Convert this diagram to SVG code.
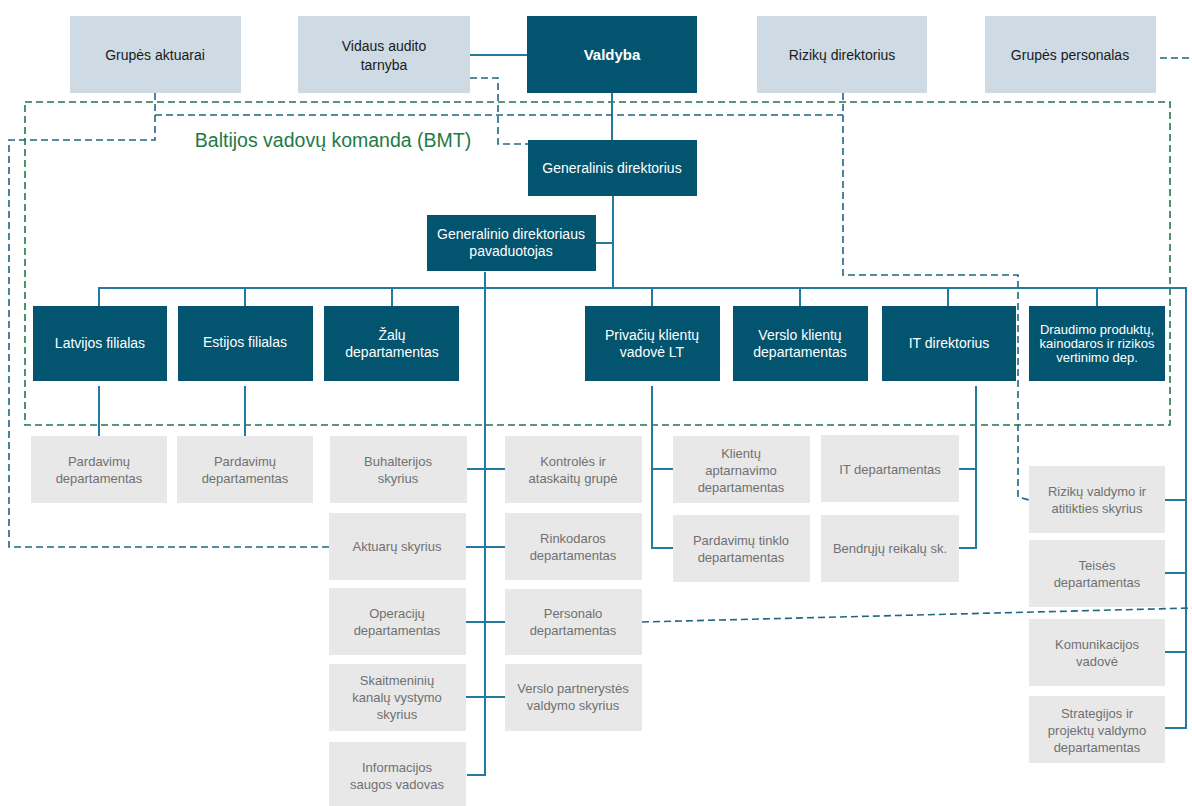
<svg xmlns="http://www.w3.org/2000/svg" width="1192" height="806" viewBox="0 0 1192 806">
<defs>
<style>
text{font-family:"Liberation Sans",Arial,sans-serif;text-anchor:middle}
.top rect{fill:#CEDBE5}
.top text{fill:#1a1a1a;font-size:14px}
.dk rect{fill:#03546F}
.dk text{fill:#ffffff;font-size:14px}
.gr rect{fill:#E8E8E8}
.gr text{fill:#707070;font-size:13px}
.solid{fill:none;stroke:#2479A0;stroke-width:2}
.dash{fill:none;stroke:#1F6784;stroke-width:1.6;stroke-dasharray:7 4}
.green{fill:none;stroke:#1E7A46;stroke-width:1.6;stroke-dasharray:7 4}
</style>
</defs>
<rect width="1192" height="806" fill="#ffffff"/>

<g id="connectors">
<rect class="green" x="25" y="102" width="1145" height="323"/>
<path class="solid" d="M470 55H527M612 93V140M613 196V288M596 243H613"/>
<path class="solid" d="M99 306V288H1186V728H1165M245 288V306M392 288V306M652 288V306M800 288V306M948 288V306M1097 288V306"/>
<path class="solid" d="M1165 500H1186M1165 573H1186M1165 652H1186"/>
<path class="solid" d="M485 272V775H467M467 469H505M466 547H505M466 622H505M466 697H505"/>
<path class="solid" d="M99 386V436M245 386V436"/>
<path class="solid" d="M652 386V548H673M652 469H673M976 386V548H959M959 469H976"/>
<path class="dash" d="M470 78H498V144H528"/>
<path class="dash" d="M155 93V140H9V547H329"/>
<path class="dash" d="M155 115H843"/>
<path class="dash" d="M843 93V275H1018V497L1029 500"/>
<path class="dash" d="M1160 58H1192"/>
<path class="dash" d="M642 622L1192 608"/>
</g>

<text x="333" y="147" fill="#1E7A46" style="font-size:19.5px">Baltijos vadovų komanda (BMT)</text>

<g id="grupes-aktuarai" class="top"><rect x="70" y="16" width="171" height="77"/><text x="155" y="60">Grupės aktuarai</text></g>
<g id="vidaus-audito" class="top"><rect x="298" y="16" width="172" height="77"/><text x="384" y="51">Vidaus audito</text><text x="384" y="70">tarnyba</text></g>
<g id="valdyba" class="dk"><rect x="527" y="16" width="170" height="77"/><text x="612" y="60" style="font-weight:bold;font-size:15px">Valdyba</text></g>
<g id="riziku-direktorius" class="top"><rect x="757" y="16" width="170" height="77"/><text x="842" y="60">Rizikų direktorius</text></g>
<g id="grupes-personalas" class="top"><rect x="985" y="16" width="171" height="77"/><text x="1070" y="60">Grupės personalas</text></g>

<g id="generalinis" class="dk"><rect x="528" y="140" width="169" height="56"/><text x="612" y="173">Generalinis direktorius</text></g>
<g id="pavaduotojas" class="dk"><rect x="427" y="215" width="169" height="56"/><text x="511" y="239">Generalinio direktoriaus</text><text x="511" y="256">pavaduotojas</text></g>

<g id="latvijos" class="dk"><rect x="33" y="306" width="134" height="75"/><text x="100" y="348">Latvijos filialas</text></g>
<g id="estijos" class="dk"><rect x="178" y="306" width="135" height="75"/><text x="245" y="347">Estijos filialas</text></g>
<g id="zalu" class="dk"><rect x="324" y="306" width="135" height="75"/><text x="392" y="340">Žalų</text><text x="392" y="357">departamentas</text></g>
<g id="privaciu" class="dk"><rect x="585" y="306" width="135" height="75"/><text x="652" y="340">Privačių klientų</text><text x="652" y="357">vadovė LT</text></g>
<g id="verslo-klientu" class="dk"><rect x="733" y="306" width="135" height="75"/><text x="800" y="340">Verslo klientų</text><text x="800" y="357">departamentas</text></g>
<g id="it-direktorius" class="dk"><rect x="882" y="306" width="134" height="75"/><text x="949" y="348">IT direktorius</text></g>
<g id="draudimo" class="dk"><rect x="1029" y="306" width="136" height="75"/><text x="1097" y="334" style="font-size:13px">Draudimo produktų,</text><text x="1097" y="348" style="font-size:13px">kainodaros ir rizikos</text><text x="1097" y="362" style="font-size:13px">vertinimo dep.</text></g>

<g id="pardavimu-lv" class="gr"><rect x="31" y="436" width="136" height="67"/><text x="99" y="466">Pardavimų</text><text x="99" y="483">departamentas</text></g>
<g id="pardavimu-ee" class="gr"><rect x="177" y="436" width="136" height="67"/><text x="245" y="466">Pardavimų</text><text x="245" y="483">departamentas</text></g>
<g id="buhalterijos" class="gr"><rect x="330" y="436" width="137" height="67"/><text x="398" y="466">Buhalterijos</text><text x="398" y="483">skyrius</text></g>
<g id="kontroles" class="gr"><rect x="505" y="436" width="137" height="67"/><text x="573" y="466">Kontrolės  ir</text><text x="573" y="483">ataskaitų  grupė</text></g>
<g id="klientu" class="gr"><rect x="673" y="436" width="137" height="67"/><text x="741" y="458">Klientų</text><text x="741" y="475">aptarnavimo</text><text x="741" y="492">departamentas</text></g>
<g id="it-departamentas" class="gr"><rect x="821" y="435" width="138" height="67"/><text x="890" y="474">IT  departamentas</text></g>
<g id="aktuaru" class="gr"><rect x="329" y="513" width="137" height="67"/><text x="397" y="551">Aktuarų  skyrius</text></g>
<g id="rinkodaros" class="gr"><rect x="505" y="513" width="137" height="67"/><text x="573" y="543">Rinkodaros</text><text x="573" y="560">departamentas</text></g>
<g id="pardavimu-tinklo" class="gr"><rect x="673" y="515" width="137" height="67"/><text x="741" y="545">Pardavimų  tinklo</text><text x="741" y="562">departamentas</text></g>
<g id="bendruju" class="gr"><rect x="821" y="515" width="138" height="67"/><text x="890" y="553">Bendrųjų  reikalų  sk.</text></g>
<g id="riziku-valdymo" class="gr"><rect x="1029" y="466" width="136" height="67"/><text x="1097" y="496">Rizikų  valdymo  ir</text><text x="1097" y="513">atitikties  skyrius</text></g>
<g id="teises" class="gr"><rect x="1029" y="540" width="136" height="67"/><text x="1097" y="570">Teisės</text><text x="1097" y="587">departamentas</text></g>
<g id="operaciju" class="gr"><rect x="329" y="588" width="137" height="67"/><text x="397" y="618">Operacijų</text><text x="397" y="635">departamentas</text></g>
<g id="personalo" class="gr"><rect x="505" y="589" width="137" height="66"/><text x="573" y="618">Personalo</text><text x="573" y="635">departamentas</text></g>
<g id="komunikacijos" class="gr"><rect x="1029" y="619" width="136" height="67"/><text x="1097" y="649">Komunikacijos</text><text x="1097" y="666">vadovė</text></g>
<g id="skaitmeniniu" class="gr"><rect x="329" y="664" width="137" height="67"/><text x="397" y="685">Skaitmeninių</text><text x="397" y="702">kanalų  vystymo</text><text x="397" y="719">skyrius</text></g>
<g id="verslo-partnerystes" class="gr"><rect x="505" y="664" width="137" height="67"/><text x="573" y="693">Verslo  partnerystės</text><text x="573" y="710">valdymo  skyrius</text></g>
<g id="strategijos" class="gr"><rect x="1029" y="696" width="136" height="67"/><text x="1097" y="718">Strategijos  ir</text><text x="1097" y="735">projektų  valdymo</text><text x="1097" y="752">departamentas</text></g>
<g id="informacijos" class="gr"><rect x="329" y="742" width="137" height="64"/><text x="397" y="772">Informacijos</text><text x="397" y="789">saugos  vadovas</text></g>
</svg>
